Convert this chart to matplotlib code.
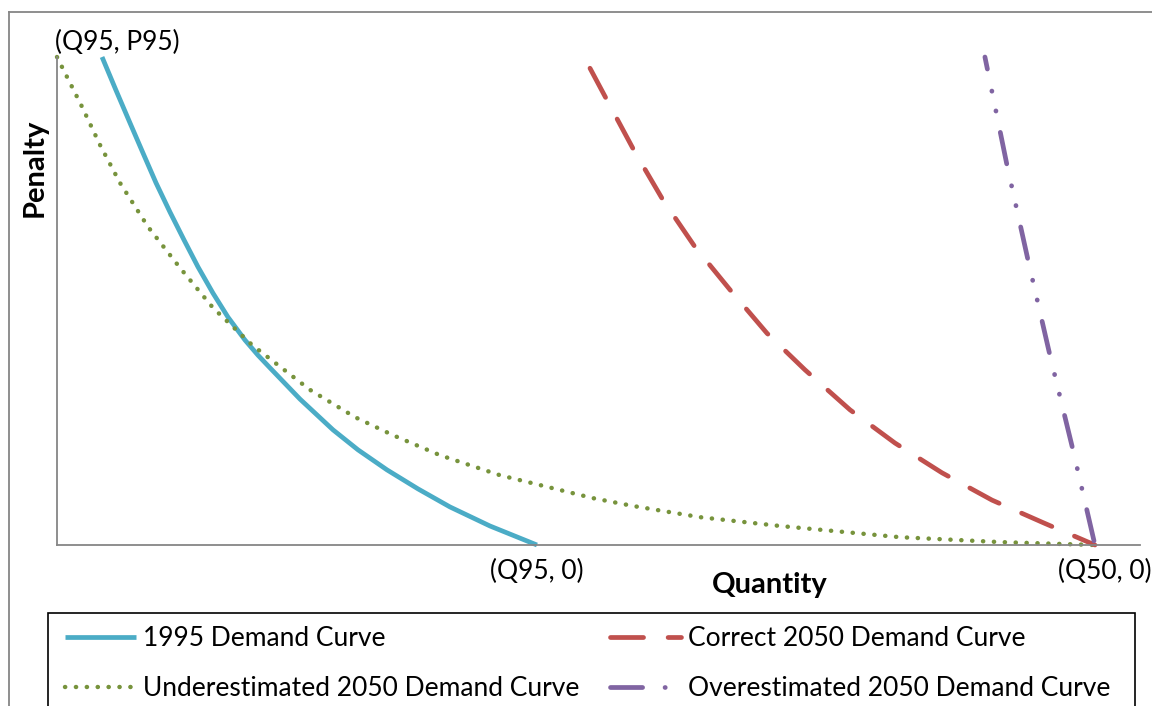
import matplotlib
matplotlib.use("Agg")
import matplotlib.pyplot as plt
from matplotlib.lines import Line2D
from matplotlib.patches import Rectangle

plt.rcParams['font.family'] = ['Lato', 'DejaVu Sans']

# ---- data (quantity scaled so Q50 = 100, penalty scaled so P95 = 100) ----
Q95 = 46.2
Q50 = 100.0
P95 = 100.0

q_1995 = [4.34, 5.68, 7.03, 8.29, 9.54, 10.89, 12.24, 13.58, 15.03, 16.47, 18.11,
          19.36, 20.52, 23.41, 26.59, 29.00, 31.79, 34.78, 37.86, 41.71, 46.24]
p_1995 = [100.0, 93.2, 86.5, 80.3, 74.2, 68.2, 62.5, 57.0, 51.6, 46.7, 42.0,
          38.9, 36.3, 29.9, 23.6, 19.5, 15.4, 11.5, 7.8, 3.9, 0.0]

q_under = [0.0, 2.41, 4.14, 6.07, 8.77, 11.85, 15.03, 18.79, 24.37, 28.71, 32.37,
           36.90, 42.68, 51.64, 55.49, 61.95, 69.65, 81.21, 90.85, 100.0]
p_under = [100.0, 89.8, 82.0, 74.2, 65.2, 56.8, 48.6, 41.0, 31.8, 26.2, 22.5,
           18.4, 14.3, 9.6, 8.0, 5.7, 3.9, 1.6, 0.6, 0.0]

q_correct = [51.35, 53.08, 55.68, 58.38, 61.46, 64.84, 68.40, 72.06, 76.40,
             80.73, 85.26, 90.08, 95.09, 100.0]
p_correct = [97.7, 90.8, 80.5, 70.7, 61.1, 52.3, 43.4, 35.9, 27.7,
             20.9, 14.8, 9.2, 4.5, 0.0]

q_over = [89.40, 91.52, 93.55, 95.66, 97.88, 100.0]
p_over = [100.0, 77.9, 58.4, 38.9, 19.5, 0.0]

series_labels = ["1995 Demand Curve", "Underestimated 2050 Demand Curve",
                 "Correct 2050 Demand Curve", "Overestimated 2050 Demand Curve"]
point_labels = ["(Q95, P95)", "(Q95, 0)", "(Q50, 0)"]
x_title = "Quantity"
y_title = "Penalty"

# ---- figure ----
W, H = 1152, 706
fig = plt.figure(figsize=(W / 100, H / 100), dpi=100)
ax = fig.add_axes([57 / W, 1 - 545 / H, 1083 / W, 488 / H])
ax.set_xlim(0, 104.34)
ax.set_ylim(0, 100)

axis_grey = "#868686"
for s in ("top", "right"):
    ax.spines[s].set_visible(False)
for s in ("left", "bottom"):
    ax.spines[s].set_color(axis_grey)
    ax.spines[s].set_linewidth(1.3)
ax.set_xticks([])
ax.set_yticks([])

lw = 3.4
l1, = ax.plot(q_1995, p_1995, color="#4BACC6", lw=lw, solid_capstyle="butt",
              solid_joinstyle="round", label=series_labels[0], clip_on=False)
l2, = ax.plot(q_under, p_under, color="#77933C", lw=3.2, dashes=(0.05, 2.4),
              dash_capstyle="round", label=series_labels[1], clip_on=False)
l3, = ax.plot(q_correct, p_correct, color="#C0504D", lw=lw, dashes=(7.0, 5.2),
              dash_capstyle="round", dash_joinstyle="round",
              label=series_labels[2], clip_on=False)
l4, = ax.plot(q_over, p_over, color="#8064A2", lw=lw,
              linestyle=(4.2, (6.8, 4.75, 0.05, 4.24, 0.05, 4.6)),
              dash_capstyle="round", label=series_labels[3], clip_on=False)

# legend proxy for the dash-dot-dot series (pattern starting with a full dash)
h4 = Line2D([], [], color="#8064A2", lw=lw,
            linestyle=(0, (6.8, 4.75, 0.05, 4.24, 0.05, 4.6)),
            dash_capstyle="round", label=series_labels[3])

fs = 19
ax.annotate(point_labels[0], xy=(0, P95), xytext=(-2, 15), textcoords="offset pixels",
            ha="left", va="center", fontsize=fs)
ax.annotate(point_labels[1], xy=(Q95, 0), xytext=(0, -26), textcoords="offset pixels",
            ha="center", va="center", fontsize=fs)
ax.annotate(point_labels[2], xy=(Q50, 0), xytext=(10, -26), textcoords="offset pixels",
            ha="center", va="center", fontsize=fs)

tfs = 21
ax.set_xlabel(x_title, fontsize=tfs, fontweight="bold")
ax.xaxis.set_label_coords((770 - 57) / 1083, -(585 - 545) / 488)
ax.xaxis.label.set_verticalalignment("center")
ax.set_ylabel(y_title, fontsize=tfs, fontweight="bold")
ax.yaxis.set_label_coords((35 - 57) / 1083, (545 - 168) / 488)
ax.yaxis.label.set_verticalalignment("center")

# outer chart frame
fig.add_artist(Line2D([8.5 / W, 8.5 / W], [0, 1 - 11.5 / H], transform=fig.transFigure,
                      color=axis_grey, lw=1.3))
fig.add_artist(Line2D([8.5 / W, 1.0], [1 - 11.5 / H, 1 - 11.5 / H], transform=fig.transFigure,
                      color=axis_grey, lw=1.3))

# legend frame (extends below the figure edge, as in the reference)
fig.add_artist(Rectangle((48 / W, -0.05), (1135 - 48) / W, 1 - 613 / H + 0.05,
                         transform=fig.transFigure, facecolor="white",
                         edgecolor="black", lw=1.2, zorder=1))

leg = fig.legend(handles=[l1, l2, l3, h4], ncol=2, loc="upper left",
                 bbox_to_anchor=(65 / W, 1 - 626 / H),
                 borderaxespad=0, borderpad=0, fontsize=fs, frameon=False,
                 handlelength=2.69, handletextpad=0.27, labelspacing=0.94,
                 columnspacing=1.14)
leg.set_zorder(2)

fig.savefig("out.png", dpi=100)
